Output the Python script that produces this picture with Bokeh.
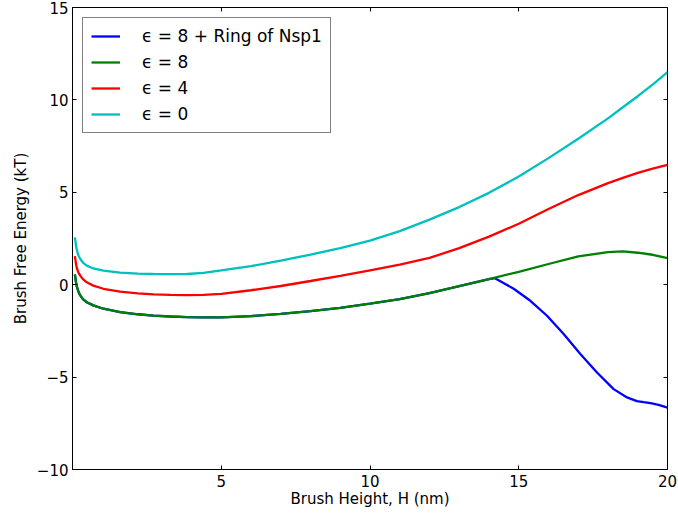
from bokeh.plotting import figure
from bokeh.models import LinearAxis, FixedTicker, Legend, LegendItem, Range1d, CustomJSTickFormatter
from bokeh.embed import file_html
from bokeh.resources import INLINE

# Data
x_common = [0.08, 0.12, 0.15, 0.2, 0.26, 0.35, 0.48, 0.7, 1.04, 1.6,
            2.2, 2.72, 3.3, 3.85, 4.4, 5, 6, 7, 8, 9,
            10, 11, 12, 13, 14, 15, 16, 17, 18, 18.5,
            19, 19.5, 20]
eps0 = [2.56, 2.1, 1.84, 1.58, 1.39, 1.2, 1.03, 0.88, 0.76, 0.65,
        0.6, 0.58, 0.57, 0.58, 0.64, 0.77, 1.0, 1.3, 1.63, 1.98,
        2.38, 2.9, 3.52, 4.2, 4.97, 5.85, 6.85, 7.9, 9.0, 9.6,
        10.2, 10.83, 11.5]
eps4 = [1.55, 1.1, 0.88, 0.65, 0.49, 0.3, 0.13, -0.05, -0.22, -0.38,
        -0.47, -0.52, -0.55, -0.56, -0.55, -0.5, -0.3, -0.07, 0.2, 0.48,
        0.78, 1.08, 1.45, 1.98, 2.6, 3.3, 4.1, 4.85, 5.5, 5.78,
        6.05, 6.28, 6.48]
eps8 = [0.55, 0.12, -0.12, -0.38, -0.58, -0.78, -0.95, -1.12, -1.3, -1.48,
        -1.6, -1.67, -1.72, -1.75, -1.77, -1.77, -1.7, -1.58, -1.43, -1.25,
        -1.03, -0.78, -0.45, -0.08, 0.3, 0.7, 1.12, 1.53, 1.76, 1.8,
        1.73, 1.62, 1.44]

x_ring = [0.08, 0.12, 0.15, 0.2, 0.26, 0.35, 0.48, 0.7, 1.04, 1.6,
          2.2, 2.72, 3.3, 3.85, 4.4, 5, 6, 7, 8, 9,
          10, 11, 12, 13, 14, 14.2, 14.5, 14.83, 15.39, 15.95,
          16.51, 17.07, 17.63, 18.19, 18.64, 18.97, 19.2, 19.43, 19.7, 20]
eps8_ring = [0.55, 0.12, -0.12, -0.38, -0.58, -0.78, -0.95, -1.12, -1.3, -1.48,
             -1.6, -1.67, -1.72, -1.75, -1.77, -1.77, -1.7, -1.58, -1.43, -1.25,
             -1.03, -0.78, -0.45, -0.08, 0.3, 0.35, 0.08, -0.22, -0.87, -1.68,
             -2.67, -3.75, -4.75, -5.65, -6.1, -6.3, -6.36, -6.41, -6.5, -6.65]

labels = ["\u03f5 = 8 + Ring of Nsp1", "\u03f5 = 8", "\u03f5 = 4", "\u03f5 = 0"]
colors = ["#0000ff", "#008000", "#ff0000", "#00bfbf"]
x_ticks = [5, 10, 15, 20]
y_ticks = [-10, -5, 0, 5, 10, 15]

p = figure(width=678, height=516, output_backend="svg", toolbar_location=None,
           x_range=Range1d(0, 20), y_range=Range1d(-10, 15),
           min_border_left=72, min_border_right=11, min_border_top=7, min_border_bottom=47)

r_ring = p.line(x_ring, eps8_ring, line_color=colors[0], line_width=2.3)
r8 = p.line(x_common, eps8, line_color=colors[1], line_width=2.3)
r4 = p.line(x_common, eps4, line_color=colors[2], line_width=2.3)
r0 = p.line(x_common, eps0, line_color=colors[3], line_width=2.3)

p.grid.visible = False
p.outline_line_color = "black"
p.outline_line_width = 1
p.background_fill_color = "white"
p.border_fill_color = "white"

for ax in (p.xaxis[0], p.yaxis[0]):
    ax.major_tick_in = 4
    ax.major_tick_out = 0
    ax.minor_tick_line_color = None
    ax.axis_line_color = "black"
    ax.major_tick_line_color = "black"
    ax.major_label_text_font = "DejaVu Sans"
    ax.major_label_text_font_size = "15px"
    ax.major_label_text_color = "black"
    ax.axis_label_text_font = "DejaVu Sans"
    ax.axis_label_text_font_size = "15px"
    ax.axis_label_text_font_style = "normal"
    ax.axis_label_text_color = "black"

p.xaxis[0].ticker = FixedTicker(ticks=x_ticks)
p.yaxis[0].ticker = FixedTicker(ticks=y_ticks)
p.xaxis[0].axis_label = "Brush Height, H (nm)"
p.yaxis[0].axis_label = "Brush Free Energy (kT)"
p.xaxis[0].major_label_standoff = 5
p.yaxis[0].major_label_standoff = 4
p.xaxis[0].axis_label_standoff = 0
p.yaxis[0].axis_label_standoff = 4

blank = CustomJSTickFormatter(code="return ''")
top = LinearAxis(ticker=FixedTicker(ticks=x_ticks), formatter=blank, fixed_location=15,
                 major_tick_in=4, major_tick_out=0, minor_tick_line_color=None,
                 major_label_standoff=0, major_label_text_font_size="1px",
                 axis_label_standoff=0, axis_line_color="black")
right = LinearAxis(ticker=FixedTicker(ticks=y_ticks), formatter=blank, fixed_location=20,
                   major_tick_in=4, major_tick_out=0, minor_tick_line_color=None,
                   major_label_standoff=0, major_label_text_font_size="1px",
                   axis_label_standoff=0, axis_line_color="black")
p.add_layout(top, "above")
p.add_layout(right, "right")

legend = Legend(items=[LegendItem(label=labels[0], renderers=[r_ring]),
                       LegendItem(label=labels[1], renderers=[r8]),
                       LegendItem(label=labels[2], renderers=[r4]),
                       LegendItem(label=labels[3], renderers=[r0])],
                location="top_left", margin=10, padding=8, spacing=6,
                label_height=20, glyph_height=20, glyph_width=29, label_standoff=22,
                label_text_font="DejaVu Sans", label_text_font_size="17px",
                label_text_color="black",
                border_line_color="black", border_line_width=1,
                background_fill_color="white", background_fill_alpha=1.0)
p.add_layout(legend, "center")

open("out.html", "w").write(file_html(p, INLINE))
